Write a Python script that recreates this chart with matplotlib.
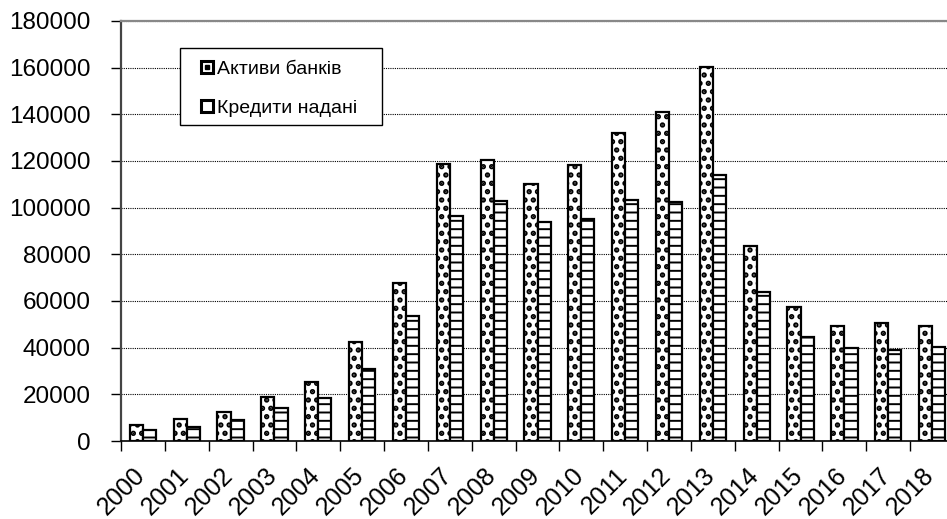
import matplotlib
matplotlib.use("Agg")
import matplotlib.pyplot as plt
import matplotlib.transforms as mtransforms
import numpy as np
from matplotlib.lines import Line2D
from matplotlib.legend_handler import HandlerTuple
from matplotlib.patches import Rectangle

years = ["2000", "2001", "2002", "2003", "2004", "2005", "2006", "2007", "2008", "2009",
         "2010", "2011", "2012", "2013", "2014", "2015", "2016", "2017", "2018"]
assets = [6900, 9300, 12300, 18900, 25400, 42400, 67600, 118700, 120400, 110300,
          118300, 132100, 141000, 160100, 83700, 57600, 49400, 50400, 49100]
loans = [4700, 6100, 9000, 14000, 18400, 31000, 53600, 96400, 103000, 93700,
         95000, 103400, 102300, 114000, 63900, 44400, 39700, 39100, 40400]
series_names = ["Активи банків", "Кредити надані"]
yticks = [0, 20000, 40000, 60000, 80000, 100000, 120000, 140000, 160000, 180000]

plt.rcParams['font.family'] = ['Liberation Sans', 'DejaVu Sans']

W, H = 947, 519
fig = plt.figure(figsize=(W / 100, H / 100), dpi=100)
left, right, bottom, top = 121, 954, 441, 21
ax = fig.add_axes([left / W, 1 - bottom / H, (right - left) / W, (bottom - top) / H])

x = np.arange(len(years))
bw = 0.3
with plt.rc_context({'hatch.linewidth': 2.6}):
    b1 = ax.bar(x - bw / 2, assets, bw, color='white', edgecolor='black', linewidth=1.6,
                hatch='..', zorder=3)
with plt.rc_context({'hatch.linewidth': 1.4}):
    b2 = ax.bar(x + bw / 2, loans, bw, color='white', edgecolor='black', linewidth=1.6,
                hatch='--', zorder=3)

ax.set_xlim(-0.5, len(years) - 0.5)
ax.set_ylim(0, 180000)
ax.set_yticks(yticks)
ax.set_yticklabels([str(v) for v in yticks], fontsize=17.5)
ax.yaxis.grid(True, linestyle=(0, (1, 1)), color='black', linewidth=0.8, zorder=0)
ax.set_axisbelow(True)

ax.set_xticks(x)
ax.set_xticklabels(years, rotation=45, ha='right', va='top', rotation_mode='anchor',
                   fontsize=18)
ax.tick_params(axis='x', which='major', length=0, pad=16)
shift = mtransforms.ScaledTranslation(-10 / 100, 0, fig.dpi_scale_trans)
for lab in ax.get_xticklabels():
    lab.set_transform(lab.get_transform() + shift)
ax.set_xticks(np.arange(len(years) + 1) - 0.5, minor=True)
ax.tick_params(axis='x', which='minor', length=7, width=1, color='black', direction='out')
ax.tick_params(axis='y', length=7, width=1, color='black', direction='out', pad=15)

ax.spines['left'].set_color('#444444')
ax.spines['left'].set_linewidth(1.6)
ax.spines['top'].set_color('#888888')
ax.spines['top'].set_linewidth(1.6)
ax.spines['bottom'].set_color('black')
ax.spines['bottom'].set_linewidth(1.2)
ax.spines['right'].set_visible(False)

# legend frame
ax.add_patch(Rectangle((0.0708, 0.752), 0.2425, 0.184, transform=ax.transAxes,
                       facecolor='white', edgecolor='black', linewidth=1.0, zorder=5))

sq1 = Line2D([], [], marker='s', markersize=9, markerfacecolor='white',
             markeredgecolor='black', markeredgewidth=2.2, linestyle='none')
dot = Line2D([], [], marker='s', markersize=2.5, markerfacecolor='black',
             markeredgecolor='black', linestyle='none')
sq2 = Line2D([], [], marker='s', markersize=9, markerfacecolor='white',
             markeredgecolor='black', markeredgewidth=2.2, linestyle='none')
leg = ax.legend([(sq1, dot), sq2], series_names,
                handler_map={tuple: HandlerTuple(ndivide=1, pad=0)},
                loc='upper left', bbox_to_anchor=(0.0960, 0.906),
                fontsize=14, frameon=False,
                handlelength=0.65, handletextpad=0.15,
                borderpad=0, labelspacing=1.1, borderaxespad=0)
leg.set_zorder(6)

fig.savefig("out.png", dpi=100)
